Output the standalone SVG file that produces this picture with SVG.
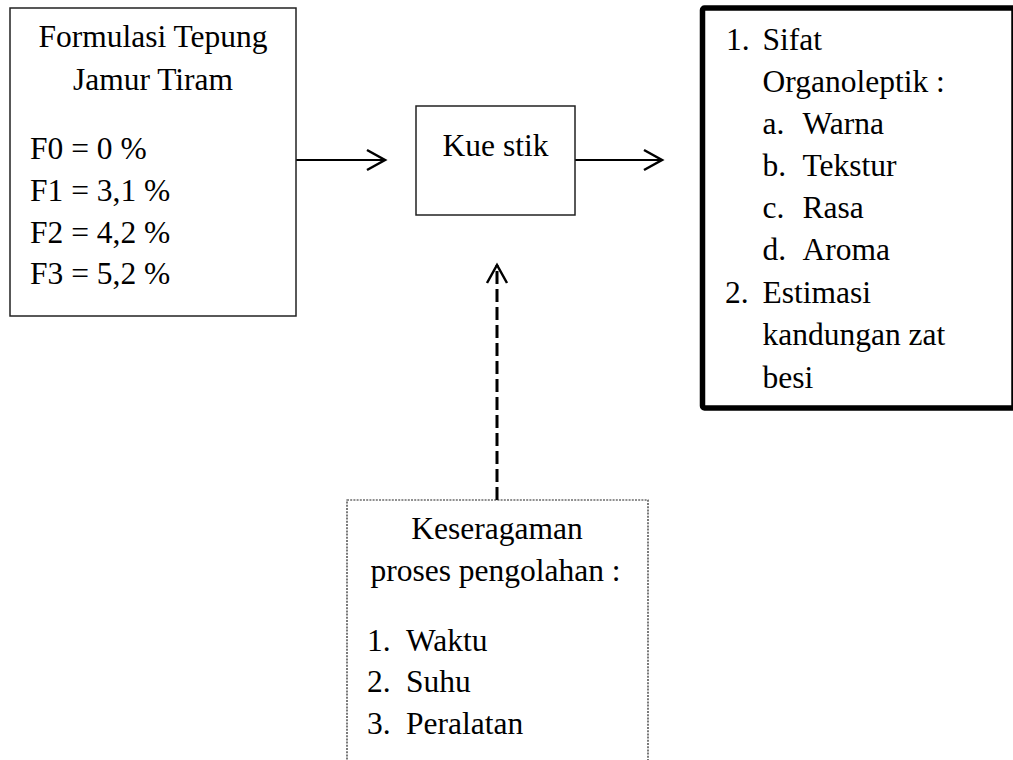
<svg xmlns="http://www.w3.org/2000/svg" width="1013" height="760" viewBox="0 0 1013 760">
<style>
text{font-family:"Liberation Serif","Times New Roman",serif;font-size:31.5px;fill:#000}
.mid{text-anchor:middle}
.box{fill:#fff;stroke:#222;stroke-width:1.5}
.thick{fill:#fff;stroke:#000;stroke-width:5.5}
.dotted{fill:#fff;stroke:#222;stroke-width:1.2;stroke-dasharray:2 1.2}
.conn{fill:none;stroke:#000;stroke-width:2}
.dash{fill:none;stroke:#000;stroke-width:3;stroke-dasharray:13 5}
</style>
<defs>
<marker id="chev" markerUnits="userSpaceOnUse" markerWidth="40" markerHeight="40" refX="20" refY="20" orient="auto" overflow="visible">
<path d="M2 10 L20 20 L2 30" fill="none" stroke="#000" stroke-width="2.5" stroke-dasharray="none" stroke-linejoin="miter"/>
</marker>
</defs>
<rect width="1013" height="760" fill="#fff"/>
<g id="connectors">
<line class="conn" x1="296" y1="160" x2="385" y2="160" marker-end="url(#chev)"/>
<line class="conn" x1="575" y1="160" x2="662" y2="160" marker-end="url(#chev)"/>
<line class="dash" x1="497" y1="500" x2="497" y2="265" marker-end="url(#chev)"/>
</g>
<g id="formulasi">
<rect class="box" x="10" y="8" width="286" height="308"/>
<text class="mid" x="153" y="47">Formulasi Tepung</text>
<text class="mid" x="153" y="90">Jamur Tiram</text>
<text x="30" y="159">F0 = 0 %</text>
<text x="30" y="201">F1 = 3,1 %</text>
<text x="30" y="243">F2 = 4,2 %</text>
<text x="30" y="284">F3 = 5,2 %</text>
</g>
<g id="kuestik">
<rect class="box" x="416" y="106" width="159" height="109"/>
<text class="mid" x="495.5" y="156">Kue stik</text>
</g>
<g id="hasil">
<rect class="thick" x="702.5" y="8" width="311.5" height="400" rx="2"/>
<text x="726" y="50">1.</text>
<text x="762.5" y="50">Sifat</text>
<text x="762.5" y="92">Organoleptik :</text>
<text x="762.5" y="134">a.</text>
<text x="802.5" y="134">Warna</text>
<text x="762.5" y="176">b.</text>
<text x="802.5" y="176">Tekstur</text>
<text x="762.5" y="218">c.</text>
<text x="802.5" y="218">Rasa</text>
<text x="762.5" y="260">d.</text>
<text x="802.5" y="260">Aroma</text>
<text x="725" y="303">2.</text>
<text x="762.5" y="303">Estimasi</text>
<text x="762.5" y="345">kandungan zat</text>
<text x="762.5" y="388">besi</text>
</g>
<g id="keseragaman">
<rect class="dotted" x="347" y="500" width="301" height="280"/>
<text class="mid" x="497" y="539">Keseragaman</text>
<text class="mid" x="495.5" y="581">proses pengolahan :</text>
<text x="367" y="651">1.</text>
<text x="406" y="651">Waktu</text>
<text x="367" y="692">2.</text>
<text x="406" y="692">Suhu</text>
<text x="367" y="734">3.</text>
<text x="406" y="734">Peralatan</text>
</g>
</svg>
